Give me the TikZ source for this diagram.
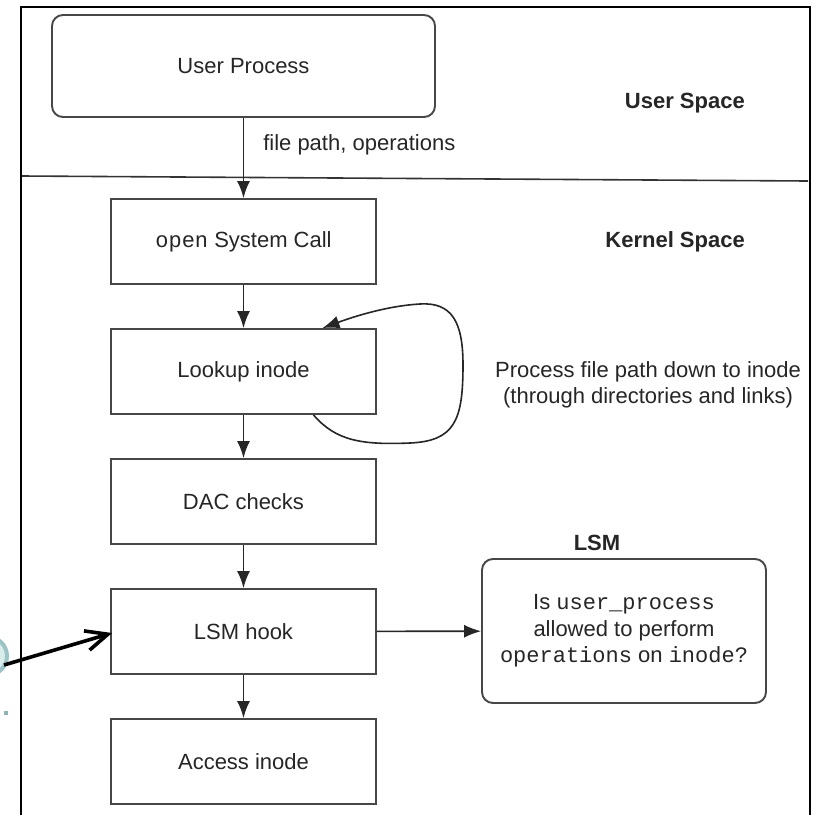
\documentclass[tikz,border=0pt]{standalone}
\usepackage{fontspec}
\setmainfont{Liberation Sans}
\setmonofont{Liberation Mono}
\usetikzlibrary{arrows.meta,calc}
\definecolor{ringteal}{HTML}{9CC4C6}
\definecolor{ringfill}{HTML}{D9ECEC}
\definecolor{dotteal}{HTML}{8FB4B8}
\begin{document}
\begin{tikzpicture}[x=1pt,y=-1pt,
  txt/.style={text=black!85, font=\fontsize{22}{26.5}\selectfont},
  stage/.style={txt, draw=black!72, line width=1.9pt, fill=white,
    minimum width=265pt, minimum height=85pt, inner sep=0pt},
  roundbox/.style={stage, rounded corners=11pt},
  flow/.style={draw=black!85, line width=1.6pt, -{Latex[length=17pt,width=13pt]}},
  heading/.style={txt, font=\bfseries\fontsize{22}{26.5}\selectfont, inner sep=0pt},
  frameline/.style={draw=black, line width=2.5pt}
]
% canvas
\fill[white] (0,0) rectangle (817,815);
\useasboundingbox (0,0) rectangle (817,815);

% outer frame, open at the bottom
\draw[frameline] (21,815) -- (21,7) -- (810,7) -- (810,815);

% user / kernel boundary
\draw[draw=black!80, line width=1.6pt] (22,176) -- (808,181);

% left column of stages
\node[roundbox, minimum width=383pt, minimum height=102pt] (user) at (243.5,66) {User Process};
\node[stage] (open)   at (243.5,241.5) {\texttt{open} System Call};
\node[stage] (lookup) at (243.5,371.5) {Lookup inode};
\node[stage] (dac)    at (243.5,501.5) {DAC checks};
\node[stage] (hook)   at (243.5,631.5) {LSM hook};
\node[stage] (access) at (243.5,761.5) {Access inode};

% LSM decision box
\node[roundbox, minimum width=284pt, minimum height=144pt, align=center] (lsm) at (624,631)
  {Is \texttt{user\_process}\\allowed to perform\\\texttt{operations} on \texttt{inode?}};

% headings and notes
\node[heading, anchor=east] (uspace) at (745,103) {User Space};
\node[heading, anchor=east] (kspace) at (745,242) {Kernel Space};
\node[heading] (lsmlabel) at (597,543) {LSM};
\node[txt, align=center, inner sep=0pt] (note) at (648,385)
  {Process file path down to inode\\(through directories and links)};

% main flow
\draw[flow] (user.south) -- node[txt, pos=0.34, anchor=west, inner sep=0pt, xshift=19pt] (fp) {file path, operations} (open.north);
\draw[flow] (open) -- (lookup);
\draw[flow] (lookup) -- (dac);
\draw[flow] (dac) -- (hook);
\draw[flow] (hook) -- (access);
\draw[flow] (hook) -- (lsm);

% path-walk loop on the lookup stage
\coordinate (loopstart) at ($(lookup.south)+(70,0)$);
\coordinate (loopend) at ($(lookup.north)+(79,0)$);
\draw[flow] (loopstart) .. controls (336,441) and (362,445) .. (410,443)
  .. controls (455,441) and (463,420) .. (463,365)
  .. controls (463,322) and (452,302) .. (420,304)
  .. controls (385,306) and (350,318) .. (loopend);

% marker at the left edge
\draw[ringteal, line width=4pt, fill=ringfill] (-12,656) circle (19);
\fill[dotteal] (4,711) rectangle (8,715);
\coordinate (pointer) at (4,665);
\draw[black, line width=3.6pt, -{Straight Barb[length=22pt,width=20pt]}] (pointer) -- ($(hook.west)+(2,1.5)$);
\end{tikzpicture}
\end{document}
